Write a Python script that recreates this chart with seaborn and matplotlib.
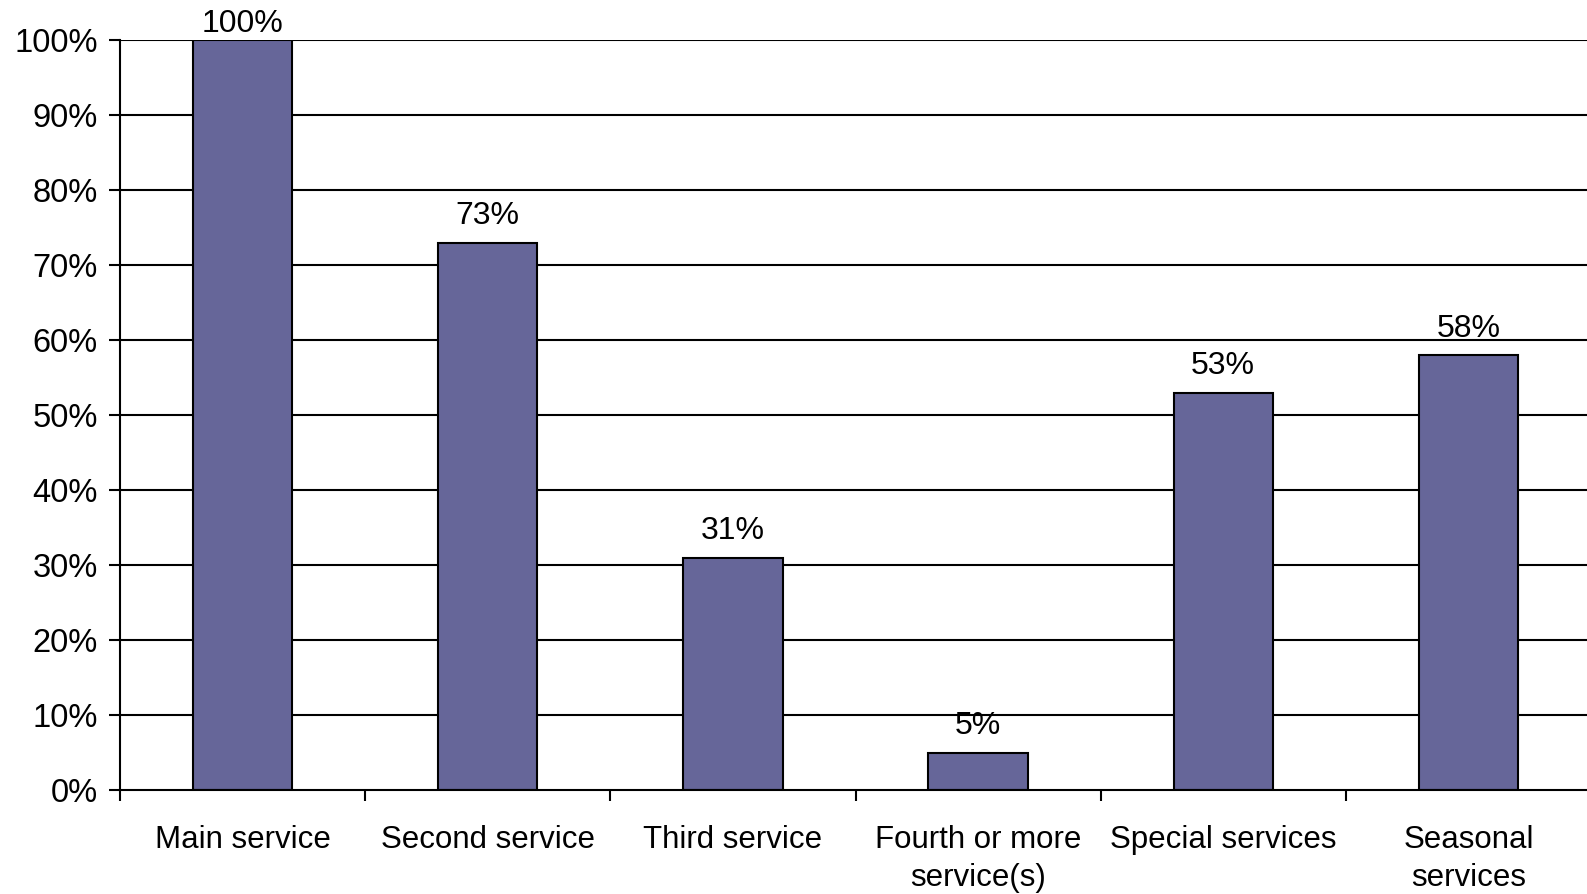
import numpy as np
import pandas as pd
import matplotlib
matplotlib.use('Agg')
import matplotlib.pyplot as plt
import seaborn as sns

# --- DATA ---
categories = ['Main service', 'Second service', 'Third service',
              'Fourth or more\nservice(s)', 'Special services', 'Seasonal\nservices']
shares = [100, 73, 31, 5, 53, 58]
yticks = [0, 10, 20, 30, 40, 50, 60, 70, 80, 90, 100]

df = pd.DataFrame({'category': categories, 'share': shares})

# --- STYLE ---
sns.set_style('white')
plt.rcParams['font.family'] = ['Liberation Sans', 'DejaVu Sans']
plt.rcParams['text.color'] = 'black'
plt.rcParams['xtick.color'] = 'black'
plt.rcParams['ytick.color'] = 'black'

fig = plt.figure(figsize=(15.87, 8.94), dpi=100)
ax = fig.add_axes([120 / 1587, 1 - 790 / 894, 1471 / 1587, 750 / 894])

sns.barplot(data=df, x='category', y='share', color='#666699', saturation=1,
            width=0.405, edgecolor='black', linewidth=1.5, ax=ax, zorder=3)

ax.set_ylim(0, 100)
ax.set_xlim(-0.5, len(categories) - 0.5)
ax.set_yticks(yticks)
ax.set_yticklabels([f'{t}%' for t in yticks], fontsize=23.5)
for t in yticks[1:]:
    ax.axhline(t, color='black', lw=1.5, zorder=1)

# ticks between categories
ax.set_xticks(np.arange(len(categories)))
ax.set_xticklabels(categories, fontsize=22.5, linespacing=1.38)
ax.set_xticks(np.arange(len(categories) + 1) - 0.5, minor=True)
ax.tick_params(axis='x', which='major', length=0, pad=25)
ax.tick_params(axis='x', which='minor', length=8, width=1.5, direction='out', bottom=True)
ax.tick_params(axis='y', length=8, width=1.5, direction='out', left=True, pad=8)

for side in ['top', 'right']:
    ax.spines[side].set_visible(False)
for side in ['left', 'bottom']:
    ax.spines[side].set_color('black')
    ax.spines[side].set_linewidth(1.5)
    ax.spines[side].set_zorder(4)

ax.set_xlabel('')
ax.set_ylabel('')

# value labels; the top one sits closer so it stays inside the figure
for i, v in enumerate(shares):
    off = 1 if v >= 100 else 8
    ax.annotate(f'{v}%', (i, v), xytext=(0, off), textcoords='offset points',
                ha='center', va='bottom', fontsize=23, annotation_clip=False)

fig.savefig('out.png', dpi=100)
